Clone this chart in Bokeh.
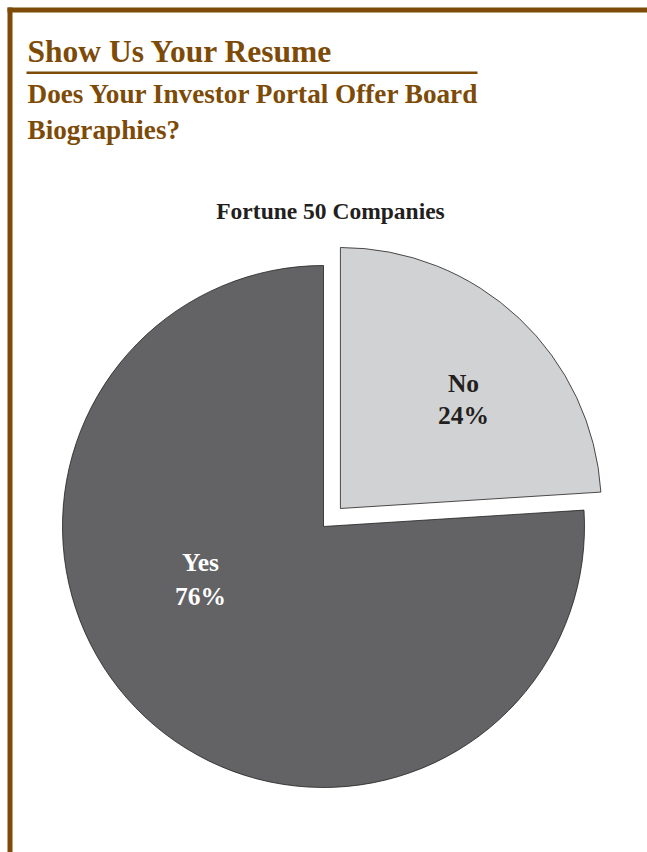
import math
from bokeh.plotting import figure
from bokeh.models import Range1d, ColumnDataSource
from bokeh.core.properties import value
from bokeh.embed import file_html
from bokeh.resources import INLINE

# ---- data ----
categories = ["Yes", "No"]
percents = [76, 24]
slice_colors = ["#636365", "#d1d2d4"]
label_colors = ["#ffffff", "#231f20"]
explode = [0, 24.7]

title_text = "Show Us Your Resume"
subtitle_lines = ["Does Your Investor Portal Offer Board", "Biographies?"]
chart_title = "Fortune 50 Companies"

W, H = 647, 852
BROWN = "#7d4b07"
SERIF = "Liberation Serif"

p = figure(width=W, height=H, output_backend="svg", toolbar_location=None,
           x_range=Range1d(0, W), y_range=Range1d(0, H), min_border=0)
p.axis.visible = False
p.grid.visible = False
p.outline_line_color = None
p.background_fill_color = "white"

def Y(py):
    return H - py

def TB(py, size):
    # baseline correction for rendered text
    return Y(py - 0.32 * size)

# frame (top and left brown rule)
p.quad(left=[7], right=[W], top=[Y(7)], bottom=[Y(12)], fill_color=BROWN, line_color=None)
p.quad(left=[7], right=[12], top=[Y(7)], bottom=[0], fill_color=BROWN, line_color=None)
# rule under title
p.quad(left=[26], right=[477], top=[Y(71)], bottom=[Y(73.5)], fill_color=BROWN, line_color=None)

ts, ss, cs, ls = 31.5, 27.2, 23.5, 25.5
p.text(x=[27], y=[TB(61, ts)], text=[title_text], text_font=value(SERIF), text_font_style="bold",
       text_font_size=f"{ts}px", text_color=BROWN, text_baseline="alphabetic", text_align="left")
p.text(x=[27, 27], y=[TB(102, ss), TB(138, ss)], text=subtitle_lines, text_font=value(SERIF),
       text_font_style="bold", text_font_size=f"{ss}px", text_color=BROWN,
       text_baseline="alphabetic", text_align="left")
p.text(x=[330], y=[TB(218, cs)], text=[chart_title], text_font=value(SERIF), text_font_style="bold",
       text_font_size=f"{cs}px", text_color="#231f20", text_baseline="alphabetic", text_align="center")

# pie
cx, cy, R = 323, Y(526), 261
total = sum(percents)
# Slices drawn clockwise from 12 o'clock; "No" first
order = [1, 0]
start = math.pi / 2
xs, ys, sa, ea, cols = [], [], [], [], []
label_pos = {"Yes": (200, 570, 604), "No": (463, 391, 423)}
for i in order:
    sweep = 2 * math.pi * percents[i] / total
    end = start - sweep
    mid = (start + end) / 2
    ox = cx + explode[i] * math.cos(mid)
    oy = cy + explode[i] * math.sin(mid)
    xs.append(ox); ys.append(oy); sa.append(end); ea.append(start); cols.append(slice_colors[i])
    start = end

src = ColumnDataSource(dict(x=xs, y=ys, sa=sa, ea=ea, c=cols))
p.wedge(x="x", y="y", radius=R, start_angle="sa", end_angle="ea", direction="anticlock",
        fill_color="c", line_color="#231f20", line_width=0.8, source=src)

for i, cat in enumerate(categories):
    lx, b1, b2 = label_pos[cat]
    p.text(x=[lx, lx], y=[TB(b1, ls), TB(b2, ls)], text=[cat, f"{percents[i]}%"], text_font=value(SERIF),
           text_font_style="bold", text_font_size=f"{ls}px", text_color=label_colors[i],
           text_baseline="alphabetic", text_align="center")

open("out.html", "w").write(file_html(p, INLINE))
